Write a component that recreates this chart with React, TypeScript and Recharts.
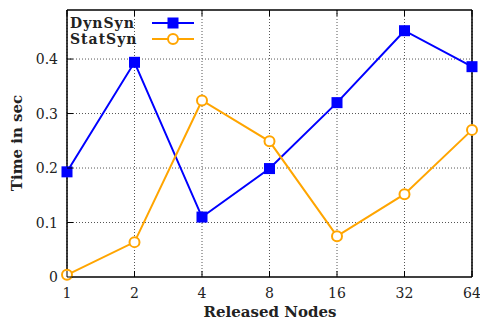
import {
  LineChart,
  Line,
  XAxis,
  YAxis,
  CartesianGrid,
  Legend,
} from "recharts";

const nodes = ["1", "2", "4", "8", "16", "32", "64"];
const dynSyn = [0.193, 0.394, 0.11, 0.199, 0.32, 0.452, 0.386];
const statSyn = [0.004, 0.064, 0.324, 0.249, 0.075, 0.152, 0.27];
const yTicks = [0, 0.1, 0.2, 0.3, 0.4];

const data = nodes.map((n, i) => ({ n, dyn: dynSyn[i], stat: statSyn[i] }));

const BLUE = "#0000ff";
const ORANGE = "#ffa500";
const FONT = "'DejaVu Serif', serif";

const SquareDot = (props: any) => {
  const { cx, cy } = props;
  if (cx == null || cy == null) return null;
  return <rect x={cx - 5.5} y={cy - 5.5} width={11} height={11} fill={BLUE} />;
};

const CircleDot = (props: any) => {
  const { cx, cy } = props;
  if (cx == null || cy == null) return null;
  return <circle cx={cx} cy={cy} r={5} fill="#fff" stroke={ORANGE} strokeWidth={2} />;
};

const LeftTick = ({ x, y, payload }: any) => (
  <g>
    <line x1={x} y1={y} x2={x + 6} y2={y} stroke="#000" strokeWidth={1} />
    <text x={x - 9} y={y + 5} textAnchor="end" fontFamily={FONT} fontSize={14} fill="#222">
      {payload.value === 0 ? "0" : payload.value.toFixed(1)}
    </text>
  </g>
);

const RightTick = ({ x, y }: any) => (
  <line x1={x} y1={y} x2={x - 6} y2={y} stroke="#000" strokeWidth={1} />
);

const BottomTick = ({ x, y, payload }: any) => (
  <g>
    <line x1={x} y1={y} x2={x} y2={y - 6} stroke="#000" strokeWidth={1} />
    <text x={x} y={y + 21} textAnchor="middle" fontFamily={FONT} fontSize={14} fill="#222">
      {payload.value}
    </text>
  </g>
);

const TopTick = ({ x, y }: any) => (
  <line x1={x} y1={y} x2={x} y2={y + 6} stroke="#000" strokeWidth={1} />
);

const legendItems = [
  { label: "DynSyn", color: BLUE, marker: "square" },
  { label: "StatSyn", color: ORANGE, marker: "circle" },
];

const LegendBox = () => (
  <div style={{ fontFamily: FONT, fontWeight: "bold", fontSize: 14, lineHeight: "14px" }}>
    {legendItems.map((it) => (
      <div key={it.label} style={{ display: "flex", alignItems: "center", height: 16 }}>
        <span style={{ width: 80, color: "#222", letterSpacing: 1 }}>{it.label}</span>
        <svg width={46} height={14}>
          <line x1={2} y1={7} x2={44} y2={7} stroke={it.color} strokeWidth={2} />
          {it.marker === "square" ? (
            <rect x={17.5} y={1.5} width={11} height={11} fill={it.color} />
          ) : (
            <circle cx={23} cy={7} r={5} fill="#fff" stroke={it.color} strokeWidth={2} />
          )}
        </svg>
      </div>
    ))}
  </div>
);

const frame = { stroke: "#000", strokeWidth: 1.5 };

export default function App() {
  return (
    <div style={{ position: "absolute", left: 0, top: 0, width: 480, height: 321, background: "#fff" }}>
      <LineChart
        width={480}
        height={321}
        data={data}
        margin={{ top: 9, right: 7, bottom: 43, left: 0 }}
      >
        <CartesianGrid
          yAxisId="l"
          xAxisId="b"
          stroke="#555"
          strokeDasharray="1 2"
          horizontalValues={[0.1, 0.2, 0.3, 0.4]}
        />
        <XAxis
          xAxisId="b"
          dataKey="n"
          scale="point"
          padding={{ left: 0, right: 0 }}
          height={1}
          tickSize={0}
          tickMargin={0}
          tick={BottomTick}
          tickLine={false}
          interval={0}
          axisLine={frame}
        />
        <XAxis
          xAxisId="t"
          dataKey="n"
          orientation="top"
          scale="point"
          padding={{ left: 0, right: 0 }}
          height={1}
          tickSize={0}
          tickMargin={0}
          tick={TopTick}
          tickLine={false}
          interval={0}
          axisLine={frame}
        />
        <YAxis
          yAxisId="l"
          domain={[0, 0.49]}
          ticks={yTicks}
          width={67}
          tickSize={0}
          tickMargin={0}
          tick={LeftTick}
          tickLine={false}
          interval={0}
          axisLine={frame}
        />
        <YAxis
          yAxisId="r"
          orientation="right"
          domain={[0, 0.49]}
          ticks={yTicks}
          width={1}
          tickSize={0}
          tickMargin={0}
          tick={RightTick}
          tickLine={false}
          interval={0}
          axisLine={frame}
        />
        <Legend
          layout="vertical"
          align="center"
          verticalAlign="middle"
          content={LegendBox}
          wrapperStyle={{ top: 15, left: 70, width: 140, height: 34 }}
        />
        <Line
          xAxisId="b"
          yAxisId="l"
          dataKey="dyn"
          stroke={BLUE}
          strokeWidth={2}
          dot={SquareDot}
          activeDot={false}
          isAnimationActive={false}
        />
        <Line
          xAxisId="b"
          yAxisId="l"
          dataKey="stat"
          stroke={ORANGE}
          strokeWidth={2}
          dot={CircleDot}
          activeDot={false}
          isAnimationActive={false}
        />
      </LineChart>
      <div
        style={{
          position: "absolute",
          left: 17,
          top: 143,
          transform: "translate(-50%, -50%) rotate(-90deg)",
          fontFamily: FONT,
          fontWeight: "bold",
          fontSize: 15,
          lineHeight: "16px",
          whiteSpace: "nowrap",
          color: "#222",
        }}
      >
        Time in sec
      </div>
      <div
        style={{
          position: "absolute",
          left: 270,
          top: 312,
          transform: "translate(-50%, -50%)",
          fontFamily: FONT,
          fontWeight: "bold",
          fontSize: 15,
          lineHeight: "16px",
          whiteSpace: "nowrap",
          color: "#222",
        }}
      >
        Released Nodes
      </div>
    </div>
  );
}
